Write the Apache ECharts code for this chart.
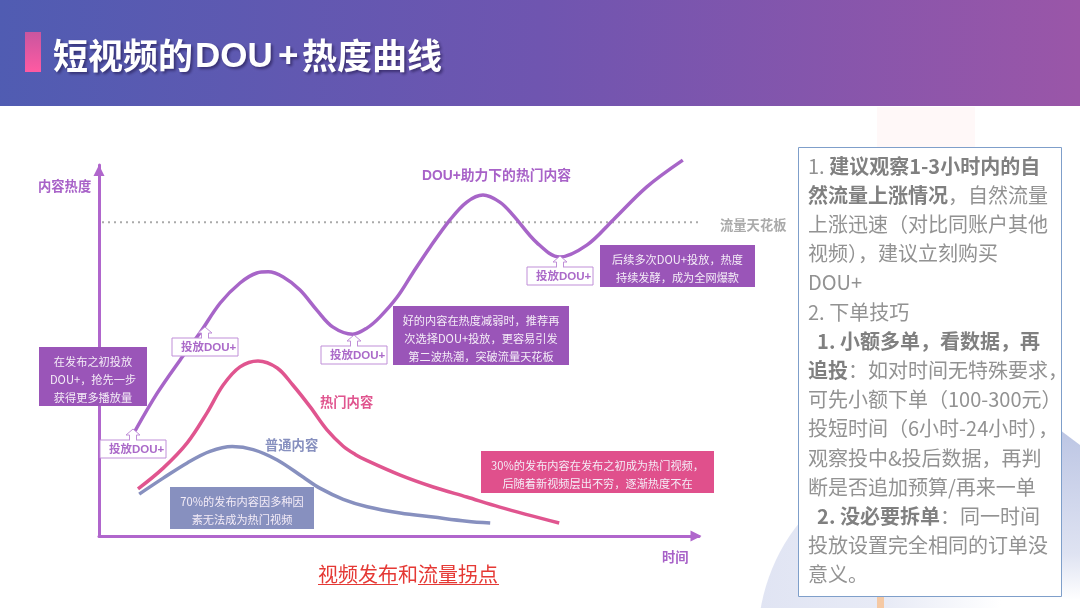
<!DOCTYPE html>
<html>
<head>
<meta charset="utf-8">
<title>短视频的DOU+热度曲线</title>
<script src="https://cdn.jsdelivr.net/npm/echarts@6/dist/echarts.min.js"></script>
<style>
html, body { margin: 0; padding: 0; background: #fff; }
#main { width: 1080px; height: 608px; }
</style>
</head>
<body>
<div id="main"></div>
<script>
// 数据：横轴时间 0-100，纵轴热度 0-100
var douX = [6, 9.7, 13.5, 16.8, 20.2, 23.5, 26.3, 28.2, 30.7, 33.5, 36.3, 39, 42.3, 44.7, 46.8, 49.7, 52.3, 55.2, 58.5, 61.3, 64, 66.8, 69, 73, 76.8, 81.3, 85.7, 91.3, 97.3];
var douY = [28.3, 38.5, 47.4, 54.7, 62.8, 68.2, 70.9, 71.2, 69.8, 66.3, 60.9, 56.3, 54.4, 56.1, 59, 64.4, 70.9, 77.9, 85.2, 90, 91.9, 90, 86.5, 79, 75.2, 78.4, 85.2, 94.1, 101.3];
var hotX = [6.5, 10.7, 14.7, 18, 20.7, 23.5, 26.5, 29.7, 32.3, 35.2, 38, 40.7, 42.7, 44.7, 50.2, 55.7, 61.3, 66.8, 76.7];
var hotY = [12.7, 18.3, 25.1, 33.2, 40.7, 45.6, 47.2, 45.3, 40.7, 34.8, 28.6, 24.2, 22, 20.3, 16.4, 13.2, 10.5, 7.8, 3.5];
var normalX = [6.7, 10.7, 14.7, 18.5, 22.2, 25.7, 29.7, 34, 36.8, 40.7, 44.7, 50.2, 55.7, 61.3, 65.2];
var normalY = [11.3, 15.6, 19.7, 22.8, 24.1, 23.3, 20.5, 15.9, 12.9, 9.9, 7.9, 6.2, 5.1, 4, 3.5];
var ceilingX = [0.5, 100];
var ceilingY = [84.6, 84.6];

var panelLines = [
    '{n|1. }{b|建议观察1-3小时内的自}',
    '{b|然流量上涨情况}{n|，自然流量}',
    '{n|上涨迅速（对比同账户其他}',
    '{n|视频），建议立刻购买}',
    '{n|DOU+}',
    '{n|2. 下单技巧}',
    '{b|  1. 小额多单，看数据，再}',
    '{b|追投}{n|：如对时间无特殊要求，}',
    '{n|可先小额下单（100-300元）}',
    '{n|投短时间（6小时-24小时），}',
    '{n|观察投中&投后数据，再判}',
    '{n|断是否追加预算/再来一单}',
    '{b|  2. 没必要拆单}{n|：同一时间}',
    '{n|投放设置完全相同的订单没}',
    '{n|意义。}'
];

var cjk = '"Noto Sans CJK SC", "Noto Sans", sans-serif';
var latin = '"Liberation Sans", "Noto Sans CJK SC", sans-serif';
var purple = '#b066cc';
var pink = '#e0558f';
var blue = '#8790bf';

function zip(xs, ys) {
    return xs.map(function (x, i) { return [x, ys[i]]; });
}

function label(text, x, y, size, color, family) {
    return {
        type: 'text', x: x, y: y, z: 20,
        style: { text: text, fill: color, font: 'bold ' + size + 'px ' + (family || cjk), verticalAlign: 'middle' }
    };
}

function titlePart(text, x, y, family) {
    return {
        type: 'text', z: 5, x: x, y: y,
        style: {
            text: text, fill: '#fff', verticalAlign: 'middle',
            font: 'bold 35px ' + family,
            textShadowColor: 'rgba(30,20,70,0.6)', textShadowBlur: 3, textShadowOffsetX: 2, textShadowOffsetY: 2
        }
    };
}

// 带底色的说明框
function note(x, y, w, h, color, lines) {
    return {
        type: 'group', z: 20,
        children: [{
            type: 'rect', z: 20,
            shape: { x: x, y: y, width: w, height: h },
            style: { fill: color }
        }, {
            type: 'text', z: 21, x: x + w / 2, y: y + h / 2 + 3,
            style: {
                text: lines.join('\n'), fill: '#f4ecf7', align: 'center', verticalAlign: 'middle',
                font: '11.2px ' + cjk, lineHeight: 18
            }
        }]
    };
}

// 投放DOU+ 标签和上面的小箭头
function tag(x, y) {
    var cx = x + 33;
    return {
        type: 'group', z: 20,
        children: [{
            type: 'polygon', z: 20,
            shape: { points: [[cx, y - 11], [cx + 7, y - 5], [cx + 3.5, y - 5], [cx + 3.5, y + 1], [cx - 3.5, y + 1], [cx - 3.5, y - 5], [cx - 7, y - 5]] },
            style: { fill: '#fff', stroke: '#c08fd8', lineWidth: 1 }
        }, {
            type: 'rect', z: 20,
            shape: { x: x, y: y, width: 66, height: 18 },
            style: { fill: '#fff', stroke: '#c08fd8', lineWidth: 1 }
        }, {
            type: 'rect', z: 20,
            shape: { x: cx - 3, y: y - 1, width: 6, height: 2 },
            style: { fill: '#fff' }
        }, {
            type: 'text', z: 21, x: x + 9, y: y + 10,
            style: { text: '投放DOU+', fill: '#ab6ac9', verticalAlign: 'middle', font: 'bold 11.5px ' + latin }
        }]
    };
}

var myChart = echarts.init(document.getElementById('main'), null, { renderer: 'canvas' });

var graphics = [
    // 背景
    {
        type: 'circle', z: -10, shape: { cx: 945, cy: 640, r: 187 },
        style: {
            fill: new echarts.graphic.LinearGradient(0, 0, 1, 0, [
                { offset: 0, color: '#e0e4f3' },
                { offset: 0.35, color: '#e8ebf6' },
                { offset: 0.65, color: '#ffffff' }
            ])
        }
    },
    {
        type: 'polygon', z: -9,
        shape: { points: [[1040, 415], [1080, 445], [1080, 600], [1040, 600]] },
        style: {
            fill: new echarts.graphic.LinearGradient(0, 0, 0, 1, [
                { offset: 0, color: '#b8c2e2' },
                { offset: 0.75, color: '#dfe3f2' },
                { offset: 1, color: '#ffffff' }
            ])
        }
    },
    { type: 'rect', z: -9, shape: { x: 877, y: 107, width: 98, height: 42 }, style: { fill: '#fff8f8' } },
    { type: 'rect', z: -8, shape: { x: 877, y: 596, width: 7, height: 12 }, style: { fill: '#f5c9a4' } },
    {
        type: 'rect', z: -7,
        shape: { x: 0, y: 0, width: 1080, height: 106 },
        style: {
            fill: new echarts.graphic.LinearGradient(0, 0, 1, 0.35, [
                { offset: 0, color: '#505cb2' },
                { offset: 0.5, color: '#6f55b0' },
                { offset: 1, color: '#9a56a8' }
            ])
        }
    },
    {
        type: 'rect', z: 5,
        shape: { x: 25, y: 32, width: 16, height: 40 },
        style: { fill: new echarts.graphic.LinearGradient(0, 0, 0, 1, [{ offset: 0, color: '#c9569f' }, { offset: 1, color: '#ff5aa2' }]) }
    },
    titlePart('短视频的', 53, 56, cjk),
    titlePart('DOU', 195, 57, latin),
    titlePart('+', 278, 57, latin),
    titlePart('热度曲线', 302, 56, cjk),

    // 曲线标注
    label('内容热度', 38, 186, 13.3, '#a862c8'),
    label('时间', 662, 557, 13.3, '#a862c8'),
    label('DOU+助力下的热门内容', 422, 176, 13.8, '#a862c8', latin),
    label('流量天花板', 720, 225, 13.3, '#aaaaaa'),
    label('热门内容', 320, 402, 13.3, pink),
    label('普通内容', 265, 445, 13.3, blue),

    note(39, 347, 108, 59, '#9a55b8', ['在发布之初投放', 'DOU+，抢先一步', '获得更多播放量']),
    note(393, 306, 176, 59, '#9a55b8', ['好的内容在热度减弱时，推荐再', '次选择DOU+投放，更容易引发', '第二波热潮，突破流量天花板']),
    note(600, 245, 155, 42, '#9a55b8', ['后续多次DOU+投放，热度', '持续发酵，成为全网爆款']),
    note(481, 451, 233, 42, '#e0508c', ['30%的发布内容在发布之初成为热门视频，', '后随着新视频层出不穷，逐渐热度不在']),
    note(170, 487, 144, 42, blue, ['70%的发布内容因多种因', '素无法成为热门视频']),

    tag(100, 440),
    tag(172, 338),
    tag(321, 346),
    tag(527, 267),

    // 底部说明
    {
        type: 'text', z: 20, x: 318, y: 574,
        style: { text: '视频发布和流量拐点', fill: '#e53935', verticalAlign: 'middle', font: '20px ' + cjk }
    },
    { type: 'line', z: 20, shape: { x1: 318, y1: 584.5, x2: 398, y2: 584.5 }, style: { stroke: '#e53935', lineWidth: 1 } },
    { type: 'line', z: 20, shape: { x1: 418, y1: 584.5, x2: 499, y2: 584.5 }, style: { stroke: '#e53935', lineWidth: 1 } },

    // 右侧文字框
    {
        type: 'rect', z: 30,
        shape: { x: 798.5, y: 147.5, width: 263, height: 449 },
        style: { fill: '#fff', stroke: '#7f9fca', lineWidth: 1 }
    },
    {
        type: 'text', z: 31, x: 808, y: 151.5,
        style: {
            text: panelLines.join('\n'), verticalAlign: 'top',
            rich: {
                n: { font: '20px ' + cjk, fill: '#929292', lineHeight: 29.2 },
                b: { font: 'bold 20px ' + cjk, fill: '#808080', lineHeight: 29.2 }
            }
        }
    }
];

var option = {
    animation: false,
    backgroundColor: '#fff',
    grid: { left: 99, right: 381, top: 165, bottom: 72 },
    xAxis: {
        type: 'value', min: 0, max: 100,
        axisLine: { show: true, onZero: false, symbol: ['none', 'triangle'], symbolSize: [11, 11], symbolOffset: [0, -3], lineStyle: { color: purple, width: 3 } },
        axisTick: { show: false }, axisLabel: { show: false }, splitLine: { show: false }
    },
    yAxis: {
        type: 'value', min: 0, max: 100,
        axisLine: { show: true, onZero: false, symbol: ['none', 'triangle'], symbolSize: [11, 11], symbolOffset: [0, -5.5], lineStyle: { color: purple, width: 3 } },
        axisTick: { show: false }, axisLabel: { show: false }, splitLine: { show: false }
    },
    graphic: { elements: graphics },
    series: [{
        name: '流量天花板', type: 'line', showSymbol: false, silent: true,
        data: zip(ceilingX, ceilingY),
        lineStyle: { color: '#aaaaaa', width: 2, type: [2, 4] }
    }, {
        name: '普通内容', type: 'line', smooth: 0.35, showSymbol: false, clip: false,
        data: zip(normalX, normalY),
        lineStyle: { color: blue, width: 3.5 }
    }, {
        name: '热门内容', type: 'line', smooth: 0.35, showSymbol: false, clip: false,
        data: zip(hotX, hotY),
        lineStyle: { color: pink, width: 3.5 }
    }, {
        name: 'DOU+助力下的热门内容', type: 'line', smooth: 0.35, showSymbol: false, clip: false,
        data: zip(douX, douY),
        lineStyle: { color: '#a765c8', width: 3.5 }
    }]
};
myChart.setOption(option);
</script>
</body>
</html>
